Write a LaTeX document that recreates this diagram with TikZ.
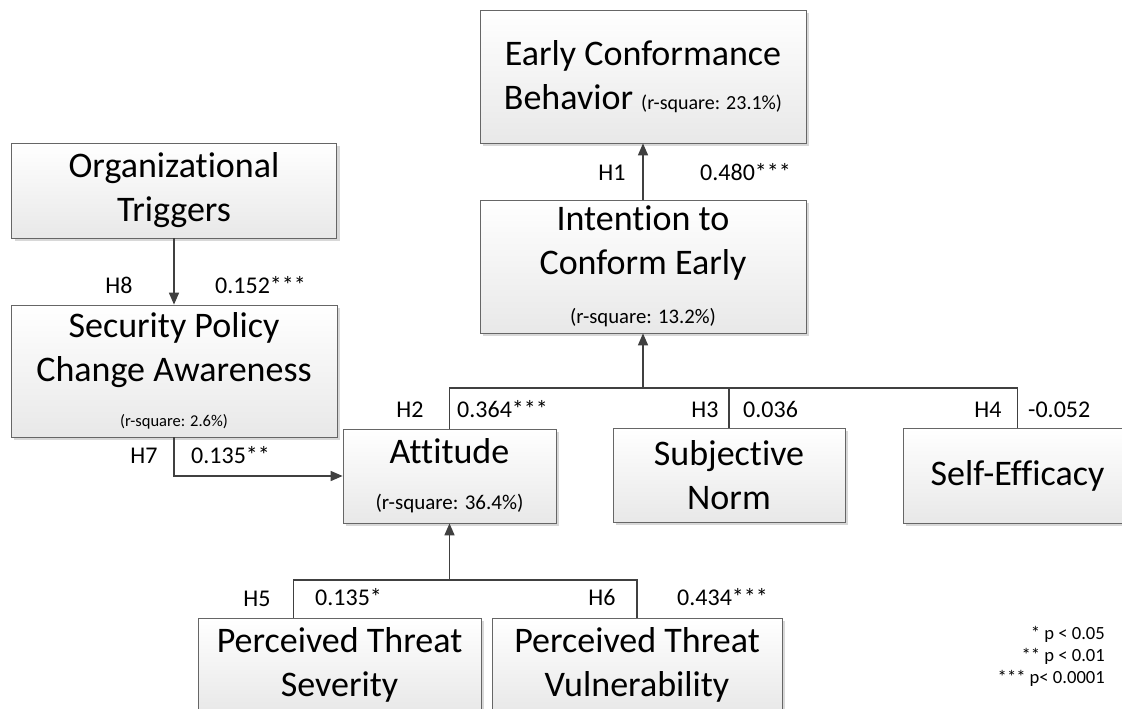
\documentclass[tikz,border=0pt]{standalone}
\usepackage{fontspec}
\setmainfont[Ligatures={NoCommon,NoRare,NoContextual}]{Carlito}
\usetikzlibrary{arrows.meta, positioning, shadows}

\newcommand{\rsq}[2][18.6]{{\fontsize{#1}{22}\selectfont (r-square: #2\%)}}

\begin{document}
\begin{tikzpicture}[x=1pt, y=-1pt,
  construct/.style={rectangle, draw=black!60, line width=0.8pt, top color=white, bottom color=black!9, drop shadow={shadow xshift=3pt, shadow yshift=-3pt, fill=black!30, opacity=0.5}, align=center, inner sep=0pt, font=\fontsize{36}{44}\selectfont},
  hyp/.style={font=\fontsize{24}{28}\selectfont, inner sep=0pt, anchor=base},
  coef/.style={font=\fontsize{24}{28}\selectfont, inner sep=0pt, anchor=base west},
  link/.style={line width=1.6pt, draw=black!75},
  arrow/.style={link, -{Triangle[length=12pt, width=10pt]}}]

  \fill[white] (0,0) rectangle (1122,709);
  \useasboundingbox (0,0) rectangle (1122,709);
  \clip (0,0) rectangle (1122,709);

  % Nodes
  \node (ecb) [construct, minimum width=326pt, minimum height=133pt] at (643,76.5) {Early Conformance \\ Behavior \rsq[20]{23.1}};
  \node (ice) [construct, minimum width=326pt, minimum height=133pt] at (643,266.5) {Intention to \\ Conform Early \\[5pt] \rsq[20.7]{13.2}};
  \node (org) [construct, minimum width=325pt, minimum height=95pt] at (174,190.5) {Organizational \\ Triggers};
  \node (spca) [construct, minimum width=326pt, minimum height=132pt] at (174,371) {Security Policy \\ Change Awareness \\[1pt] \rsq[16.5]{2.6}};
  \node (att) [construct, minimum width=213pt, minimum height=94pt] at (449.5,476) {Attitude \\[2pt] \rsq[21]{36.4}};
  \node (sn) [construct, minimum width=232pt, minimum height=94pt] at (729,475) {Subjective \\ Norm};
  \node (se) [construct, minimum width=229pt, minimum height=95pt] at (1017.5,475.5) {Self-Efficacy};
  \node (pts) [construct, minimum width=283pt, minimum height=94pt] at (339.5,665) {Perceived Threat \\ Severity};
  \node (ptv) [construct, minimum width=290pt, minimum height=94pt] at (637,665) {Perceived Threat \\ Vulnerability};

  \coordinate (jtop) at (643,388);
  \coordinate (jbot) at (449.5,580);

  % Arrows
  \draw [arrow] (ice) -- (ecb);
  \draw [arrow] (org) -- (spca);
  \draw [arrow] (spca.south) |- (att);
  \draw [link] (att.north) |- (se.north |- jtop) -- (se.north);
  \draw [link] (sn.north) -- (sn.north |- jtop);
  \draw [arrow] (jtop) -- (ice);
  \draw [link] ([xshift=96pt]pts.north west) |- (ptv.north |- jbot) -- (ptv.north);
  \draw [arrow] (jbot) -- (att);

  % Path labels
  \node (h1) [hyp] at (612,180) {H1};
  \node (b1) [coef] at (700,180) {0.480***};
  \node (h2) [hyp] at (410,417) {H2};
  \node (b2) [coef] at (457,417) {0.364***};
  \node (h3) [hyp] at (705,417) {H3};
  \node (b3) [coef] at (743,417) {0.036};
  \node (h4) [hyp] at (988,417) {H4};
  \node (b4) [coef] at (1028,417) {-0.052};
  \node (h5) [hyp] at (257,606) {H5};
  \node (b5) [coef] at (315,605) {0.135*};
  \node (h6) [hyp] at (602,605) {H6};
  \node (b6) [coef] at (677,605) {0.434***};
  \node (h7) [hyp] at (144,463) {H7};
  \node (b7) [coef] at (191,463) {0.135**};
  \node (h8) [hyp] at (119,293) {H8};
  \node (b8) [coef] at (215,293) {0.152***};

  \node (sig) [font=\fontsize{18.6}{22}\selectfont, align=right, anchor=south east, inner sep=0pt] at (1105,687) {* p < 0.05 \\ ** p < 0.01 \\ *** p< 0.0001};

\end{tikzpicture}
\end{document}
